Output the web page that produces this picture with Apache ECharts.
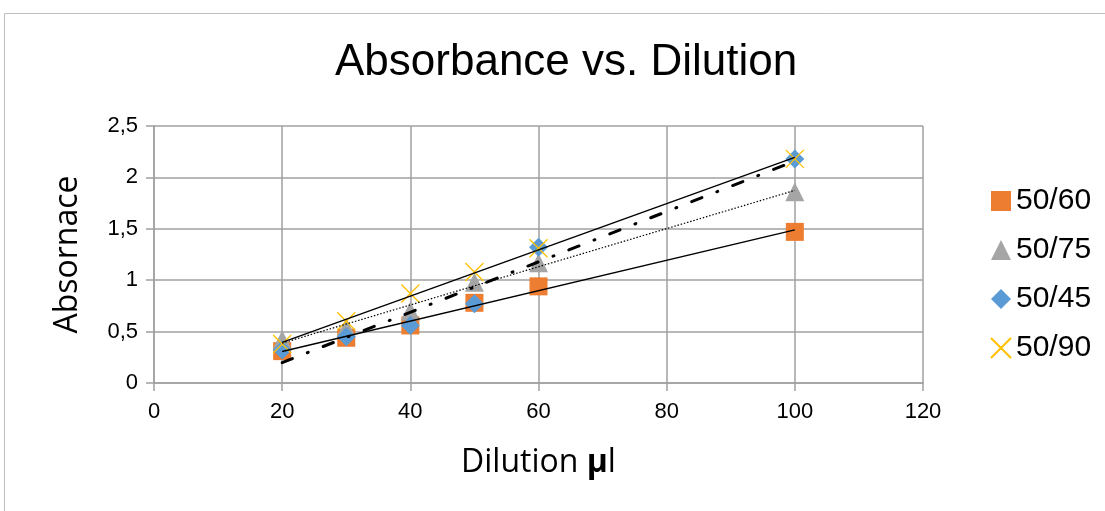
<!DOCTYPE html>
<html>
<head>
<meta charset="utf-8">
<script src="https://cdn.jsdelivr.net/npm/echarts@6/dist/echarts.min.js"></script>
<style>html,body{margin:0;padding:0;background:#fff;}#chart{width:1105px;height:511px;}</style>
</head>
<body>
<div id="chart"></div>
<script>
// ---- data ----
const dilution = [20, 30, 40, 50, 60, 100];
const s5060 = [0.31, 0.44, 0.56, 0.78, 0.94, 1.47];
const s5075 = [0.42, 0.54, 0.70, 0.98, 1.17, 1.86];
const s5045 = [0.32, 0.45, 0.56, 0.77, 1.32, 2.18];
const s5090 = [0.38, 0.60, 0.87, 1.08, 1.31, 2.18];
const seriesNames = ['50/60', '50/75', '50/45', '50/90'];
const xTickLabels = ['0', '20', '40', '60', '80', '100', '120'];
const yTickLabels = ['0', '0,5', '1', '1,5', '2', '2,5'];

function pairs(xs, ys) { return xs.map((x, i) => [x, ys[i]]); }
function linFit(xs, ys) {
  const n = xs.length;
  const mx = xs.reduce((a, b) => a + b, 0) / n;
  const my = ys.reduce((a, b) => a + b, 0) / n;
  let sxy = 0, sxx = 0;
  for (let i = 0; i < n; i++) { sxy += (xs[i] - mx) * (ys[i] - my); sxx += (xs[i] - mx) * (xs[i] - mx); }
  const b = sxy / sxx, a = my - b * mx;
  const x0 = Math.min(...xs), x1 = Math.max(...xs);
  return [[x0, a + b * x0], [x1, a + b * x1]];
}

const chart = echarts.init(document.getElementById('chart'), null, {renderer: 'canvas'});
const tickFont = 'Liberation Sans';
const markerSeries = [
  {name: seriesNames[0], data: pairs(dilution, s5060), symbol: 'rect', symbolSize: 18, itemStyle: {color: '#ED7D31', opacity: 1}},
  {name: seriesNames[1], data: pairs(dilution, s5075), symbol: 'triangle', symbolSize: 19, itemStyle: {color: '#A5A5A5', opacity: 1}},
  {name: seriesNames[2], data: pairs(dilution, s5045), symbol: 'diamond', symbolSize: 19, itemStyle: {color: '#5B9BD5', opacity: 1}},
  {name: seriesNames[3], data: pairs(dilution, s5090), symbol: 'path://M0,0L10,10M10,0L0,10', symbolSize: 18,
   itemStyle: {color: 'rgba(0,0,0,0)', borderColor: '#FFC000', borderWidth: 1.3, opacity: 1}}
].map(s => Object.assign({type: 'scatter', z: 2, emphasis: {disabled: true}}, s));

const trendStyles = [
  {width: 1.4, type: 'solid'},
  {width: 1.2, type: [1.5, 1.8]},
  {width: 3, type: [11, 16, 1, 16], cap: 'round'},
  {width: 1.4, type: 'solid'}
];
const seriesData = [s5060, s5075, s5045, s5090];
const trendSeries = seriesData.map((ys, i) => ({
  type: 'line', name: 'Linear (' + seriesNames[i] + ')', data: linFit(dilution, ys),
  symbol: 'none', silent: true, z: 3, animation: false,
  lineStyle: Object.assign({color: '#000'}, trendStyles[i]),
  emphasis: {disabled: true}
}));

chart.setOption({
  animation: false,
  backgroundColor: '#fff',
  title: {
    text: 'Absorbance vs. Dilution', left: 330, top: 36,
    textStyle: {fontFamily: 'Liberation Sans', fontSize: 44, fontWeight: 'normal', color: '#000'}
  },
  graphic: [{
    type: 'rect', shape: {x: 4.5, y: 13.5, width: 1200, height: 700},
    style: {fill: 'none', stroke: '#bfbfbf', lineWidth: 1}, silent: true, z: -1
  }],
  legend: {
    orient: 'vertical', left: 990, top: 186, itemWidth: 20, itemHeight: 20, itemGap: 19, padding: 0,
    data: seriesNames,
    textStyle: {fontFamily: 'Liberation Sans', fontSize: 30, lineHeight: 30, color: '#000'}
  },
  grid: {left: 154, right: 182, top: 126, bottom: 128, containLabel: false},
  xAxis: {
    type: 'value', min: 0, max: 120, interval: 20,
    name: '{n|Dilution }{b|µ}{n|l}', nameLocation: 'middle', nameGap: 64,
    nameTextStyle: {rich: {
      n: {fontFamily: 'Open Sans', fontSize: 32, color: '#000'},
      b: {fontFamily: 'Open Sans', fontSize: 32, fontWeight: 'bold', color: '#000'}
    }},
    axisLine: {show: true, lineStyle: {color: '#a0a0a0', width: 1.5}},
    axisTick: {show: true, length: 8, lineStyle: {color: '#a0a0a0', width: 1.5}},
    splitLine: {show: true, lineStyle: {color: '#a0a0a0', width: 1.5}},
    axisLabel: {margin: 18, fontFamily: tickFont, fontSize: 22, color: '#000',
      formatter: v => xTickLabels[Math.round(v / 20)]}
  },
  yAxis: {
    type: 'value', min: 0, max: 2.5, interval: 0.5,
    name: 'Absornace', nameLocation: 'middle', nameGap: 70, nameRotate: 90,
    nameTextStyle: {fontFamily: 'Open Sans', fontSize: 32, color: '#000'},
    axisLine: {show: true, lineStyle: {color: '#a0a0a0', width: 1.5}},
    axisTick: {show: true, length: 8, lineStyle: {color: '#a0a0a0', width: 1.5}},
    splitLine: {show: true, lineStyle: {color: '#a0a0a0', width: 1.5}},
    axisLabel: {margin: 16, fontFamily: tickFont, fontSize: 22, color: '#000',
      formatter: v => yTickLabels[Math.round(v / 0.5)]}
  },
  series: markerSeries.concat(trendSeries)
});
</script>
</body>
</html>
